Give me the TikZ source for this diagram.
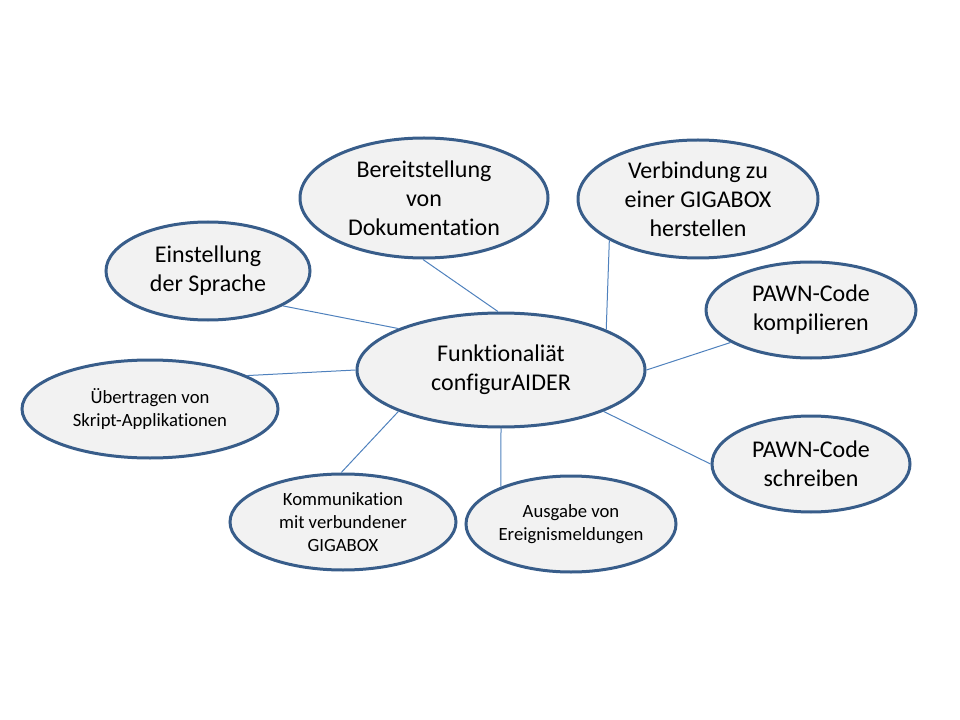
\documentclass[tikz,border=0pt]{standalone}
\usepackage{fontspec}
\setmainfont[Ligatures=NoCommon]{Carlito}
\usepackage{xcolor}
\usetikzlibrary{shapes.geometric}

\definecolor{ovalfill}{HTML}{F2F2F2}
\definecolor{ovaldraw}{HTML}{385D8A}
\definecolor{linkblue}{HTML}{4F81BD}

\begin{document}
\begin{tikzpicture}[x=0.75pt,y=-0.75pt,
    oval/.style={ellipse, draw=ovaldraw, fill=ovalfill, line width=2.25pt,
        align=center, inner sep=0pt, text=black},
    bigtext/.style={font=\fontsize{18}{21.75}\selectfont},
    smalltext/.style={font=\fontsize{14}{17}\selectfont},
    link/.style={draw=linkblue, line width=0.75pt}]
        \useasboundingbox (0,0) rectangle (960,720);

        % center oval
        \node[oval, bigtext, minimum width=216pt, minimum height=85.5pt] (main) at (501,370)
            {Funktionaliät\\configurAIDER};

        % outer ovals
        \node[oval, bigtext, minimum width=186pt, minimum height=90pt] (doku) at (424,198)
            {Bereitstellung\\von\\Dokumentation};
        \node[oval, bigtext, minimum width=180pt, minimum height=88.5pt] (verb) at (698,199)
            {Verbindung zu\\einer GIGABOX\\herstellen};
        \node[oval, bigtext, minimum width=153pt, minimum height=73.5pt] (sprache) at (208,271)
            {Einstellung\\der Sprache};
        \node[oval, bigtext, minimum width=157.5pt, minimum height=72pt] (kompil) at (811,310)
            {PAWN-Code\\kompilieren};
        \node[oval, smalltext, minimum width=192pt, minimum height=73.5pt] (skript) at (150,409)
            {Übertragen von\\Skript-Applikationen};
        \node[oval, bigtext, minimum width=148.5pt, minimum height=72pt] (schreib) at (811,464)
            {PAWN-Code\\schreiben};
        \node[oval, smalltext, minimum width=169.5pt, minimum height=72pt] (komm) at (343,522)
            {Kommunikation\\mit verbundener\\GIGABOX};
        \node[oval, smalltext, minimum width=157.5pt, minimum height=72pt] (ausgabe) at (571,524)
            {Ausgabe von\\Ereignismeldungen};

        % connectors (outer node/angle, angle on main)
        \foreach \n/\a/\b in {
            doku/269/93, verb/205.7/21.9,
            sprache/335/158.3, kompil/202/0,
            skript/19/180, schreib/180/338.8,
            komm/92.5/202.2, ausgabe/152.4/270
        } {
            \draw[link] (\n.\a) -- (main.\b);
        }
    \end{tikzpicture}
\end{document}
